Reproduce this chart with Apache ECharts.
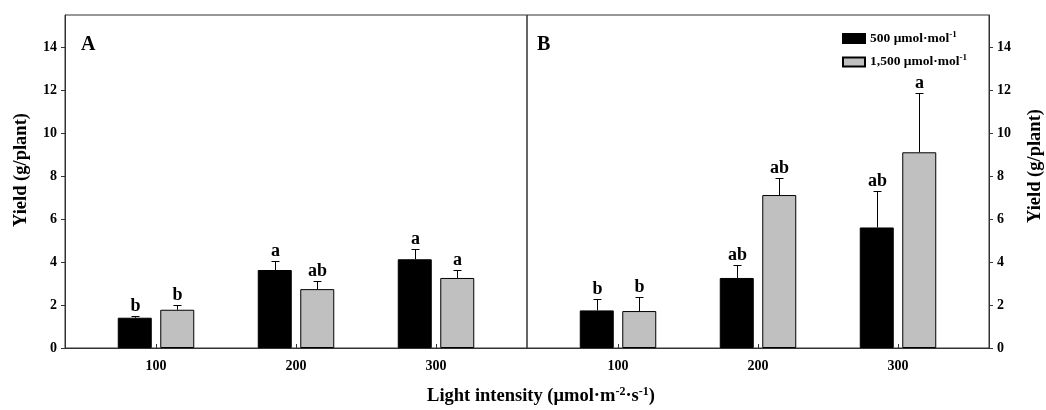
<!DOCTYPE html>
<html>
<head>
<meta charset="utf-8">
<script src="https://cdn.jsdelivr.net/npm/echarts@6/dist/echarts.min.js"></script>
<style>
  html, body { margin: 0; padding: 0; background: #fff; }
  #chart { width: 1046px; height: 410px; }
</style>
</head>
<body>
<div id="chart"></div>
<script>
// Light intensity levels (µmol·m-2·s-1)
const lightLevels = [100, 200, 300];
const yTicks = [0, 2, 4, 6, 8, 10, 12, 14];

// Panel A
const yieldA500 = [1.41, 3.63, 4.13];
const errA500 = [0.08, 0.42, 0.47];
const lettersA500 = ['b', 'a', 'a'];
const yieldA1500 = [1.78, 2.74, 3.26];
const errA1500 = [0.24, 0.38, 0.38];
const lettersA1500 = ['b', 'ab', 'a'];

// Panel B
const yieldB500 = [1.75, 3.26, 5.61];
const errB500 = [0.55, 0.59, 1.72];
const lettersB500 = ['b', 'ab', 'ab'];
const yieldB1500 = [1.72, 7.12, 9.11];
const errB1500 = [0.67, 0.80, 2.77];
const lettersB1500 = ['b', 'ab', 'a'];

const SERIF = '"Liberation Serif", "Times New Roman", serif';
const AXIS_COLOR = '#333';
const BAR_W = 34;
const HALF_SPACING = 21.25;

const pairs = (vals) => lightLevels.map((x, i) => [x, vals[i]]);
const errPairs = (vals, errs) => lightLevels.map((x, i) => [x, vals[i], errs[i]]);

// Error bar with cap and significance letter above it
function errorSeries(gridIdx, vals, errs, letters, offset) {
  return {
    type: 'custom',
    xAxisIndex: gridIdx,
    yAxisIndex: gridIdx,
    z: 10,
    silent: true,
    data: errPairs(vals, errs),
    renderItem: function (params, api) {
      const x = api.value(0), v = api.value(1), e = api.value(2);
      const base = api.coord([x, v]);
      const top = api.coord([x, v + e]);
      const cx = Math.round(base[0] + offset) + 0.5;
      const ty = Math.round(top[1]) + 0.5;
      return {
        type: 'group',
        children: [
          { type: 'line', shape: { x1: cx, y1: base[1], x2: cx, y2: ty },
            style: { stroke: '#000', lineWidth: 1 } },
          { type: 'line', shape: { x1: cx - 4, y1: ty, x2: cx + 4, y2: ty },
            style: { stroke: '#000', lineWidth: 1 } },
          { type: 'text', x: cx, y: ty - 1,
            style: { text: letters[params.dataIndex], fill: '#000',
              font: 'bold 18px ' + SERIF, align: 'center', verticalAlign: 'bottom' } }
        ]
      };
    }
  };
}

function barSeries(name, gridIdx, vals, color) {
  return {
    name: name,
    type: 'bar',
    xAxisIndex: gridIdx,
    yAxisIndex: gridIdx,
    barWidth: BAR_W,
    barGap: '25%',
    data: pairs(vals),
    itemStyle: { color: color, borderColor: '#000', borderWidth: 1 }
  };
}

function xAxis(gridIdx) {
  return {
    type: 'value',
    gridIndex: gridIdx,
    min: 35,
    max: 365,
    axisLine: { show: true, lineStyle: { color: AXIS_COLOR, width: 1 } },
    axisTick: { show: true, inside: true, length: 4, customValues: lightLevels,
      lineStyle: { color: AXIS_COLOR } },
    axisLabel: { customValues: lightLevels, margin: 11,
      fontFamily: SERIF, fontWeight: 'bold', fontSize: 14, color: '#000' },
    splitLine: { show: false }
  };
}

function yAxis(gridIdx, position) {
  return {
    type: 'value',
    gridIndex: gridIdx,
    position: position,
    min: 0,
    max: 15.5,
    axisLine: { show: true, lineStyle: { color: AXIS_COLOR, width: 1 } },
    axisTick: { show: true, inside: false, length: 4, customValues: yTicks,
      lineStyle: { color: AXIS_COLOR } },
    axisLabel: { customValues: yTicks, margin: 8,
      fontFamily: SERIF, fontWeight: 'bold', fontSize: 14, color: '#000' },
    splitLine: { show: false }
  };
}

const chart = echarts.init(document.getElementById('chart'), null, { renderer: 'canvas' });

const legendRich = {
  t: { fontFamily: SERIF, fontWeight: 'bold', fontSize: 13.5, color: '#000' },
  s: { fontFamily: SERIF, fontWeight: 'bold', fontSize: 9, color: '#000', padding: [0, 0, 8, 0] }
};
const titleRich = {
  t: { fontFamily: SERIF, fontWeight: 'bold', fontSize: 18.5, color: '#000' },
  s: { fontFamily: SERIF, fontWeight: 'bold', fontSize: 12, color: '#000', padding: [0, 0, 9, 0] }
};

chart.setOption({
  animation: false,
  backgroundColor: '#fff',
  grid: [
    { left: 65, top: 15, width: 462, height: 333, show: true,
      borderColor: AXIS_COLOR, borderWidth: 1, containLabel: false },
    { left: 527, top: 15, width: 462, height: 333, show: true,
      borderColor: AXIS_COLOR, borderWidth: 1, containLabel: false }
  ],
  xAxis: [xAxis(0), xAxis(1)],
  yAxis: [yAxis(0, 'left'), yAxis(1, 'right')],
  legend: {
    orient: 'vertical',
    left: 842,
    top: 30,
    padding: 0,
    itemWidth: 22,
    itemHeight: 9,
    itemGap: 8,
    icon: 'rect',
    data: ['500', '1500'],
    formatter: function (name) {
      return name === '500'
        ? '{t|500 μmol·mol}{s|-1}'
        : '{t|1,500 μmol·mol}{s|-1}';
    },
    textStyle: { rich: legendRich }
  },
  graphic: [
    { type: 'text', left: 81, top: 35,
      style: { text: 'A', font: 'bold 20px ' + SERIF, fill: '#000' } },
    { type: 'text', left: 537, top: 35,
      style: { text: 'B', font: 'bold 20px ' + SERIF, fill: '#000' } },
    { type: 'text', x: 21, y: 170, rotation: Math.PI / 2,
      style: { text: 'Yield (g/plant)', font: 'bold 18.5px ' + SERIF, fill: '#000',
        align: 'center', verticalAlign: 'middle' } },
    { type: 'text', x: 1035, y: 166, rotation: Math.PI / 2,
      style: { text: 'Yield (g/plant)', font: 'bold 18.5px ' + SERIF, fill: '#000',
        align: 'center', verticalAlign: 'middle' } },
    { type: 'text', x: 541, y: 396,
      style: { text: '{t|Light intensity (μmol·m}{s|-2}{t|·s}{s|-1}{t|)}',
        rich: titleRich, align: 'center', verticalAlign: 'middle' } }
  ],
  series: [
    barSeries('500', 0, yieldA500, '#000'),
    barSeries('1500', 0, yieldA1500, '#c0c0c0'),
    barSeries('500', 1, yieldB500, '#000'),
    barSeries('1500', 1, yieldB1500, '#c0c0c0'),
    errorSeries(0, yieldA500, errA500, lettersA500, -HALF_SPACING),
    errorSeries(0, yieldA1500, errA1500, lettersA1500, HALF_SPACING),
    errorSeries(1, yieldB500, errB500, lettersB500, -HALF_SPACING),
    errorSeries(1, yieldB1500, errB1500, lettersB1500, HALF_SPACING)
  ]
});
</script>
</body>
</html>
